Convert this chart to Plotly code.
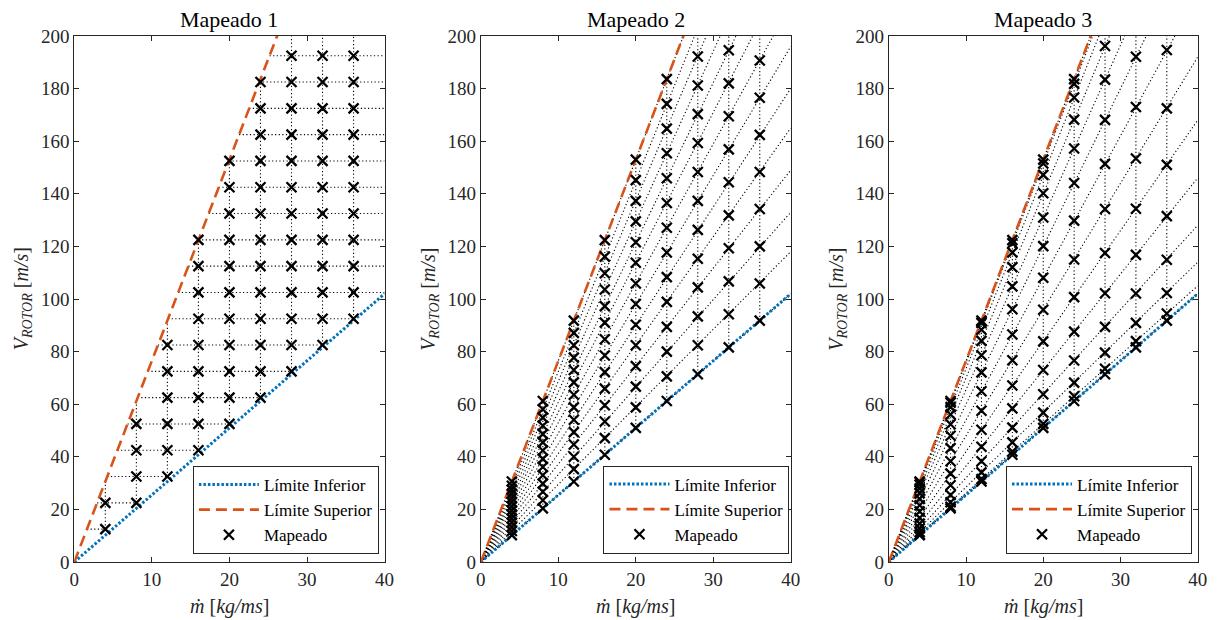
import numpy as np
import plotly.graph_objects as go

# ---------------- data ----------------
MDOT_COLUMNS = [4, 8, 12, 16, 20, 24, 28, 32, 36]
LIMIT_M = [0, 40]
LIMIT_INF_V = [0, 102.0]
LIMIT_SUP_V = [0, 306.0]
X_TICKS = [0, 10, 20, 30, 40]
Y_TICKS = [0, 20, 40, 60, 80, 100, 120, 140, 160, 180, 200]
TITLES = ["Mapeado 1", "Mapeado 2", "Mapeado 3"]
LEGEND_NAMES = ["Límite Inferior", "Límite Superior", "Mapeado"]

MAP1_V = [
    [12.5, 22.5],
    [22.5, 32.5, 42.5, 52.5],
    [32.5, 42.5, 52.5, 62.5, 72.5, 82.5],
    [42.5, 52.5, 62.5, 72.5, 82.5, 92.5, 102.5, 112.5, 122.5],
    [52.5, 62.5, 72.5, 82.5, 92.5, 102.5, 112.5, 122.5, 132.5, 142.5, 152.5],
    [62.5, 72.5, 82.5, 92.5, 102.5, 112.5, 122.5, 132.5, 142.5, 152.5, 162.5, 172.5, 182.5],
    [72.5, 82.5, 92.5, 102.5, 112.5, 122.5, 132.5, 142.5, 152.5, 162.5, 172.5, 182.5, 192.5],
    [82.5, 92.5, 102.5, 112.5, 122.5, 132.5, 142.5, 152.5, 162.5, 172.5, 182.5, 192.5],
    [92.5, 102.5, 112.5, 122.5, 132.5, 142.5, 152.5, 162.5, 172.5, 182.5, 192.5],
]

MAP2_V = [
    [10.2, 11.8, 13.3, 14.9, 16.5, 18.0, 19.6, 21.2, 22.8, 24.3, 25.9, 27.5, 29.0, 30.6],
    [20.4, 23.5, 26.7, 29.8, 33.0, 36.1, 39.2, 42.4, 45.5, 48.6, 51.8, 54.9, 58.1, 61.2],
    [30.6, 35.3, 40.0, 44.7, 49.4, 54.1, 58.8, 63.6, 68.3, 73.0, 77.7, 82.4, 87.1, 91.8],
    [40.8, 47.1, 53.4, 59.6, 65.9, 72.2, 78.5, 84.7, 91.0, 97.3, 103.6, 109.8, 116.1, 122.4],
    [51.0, 58.8, 66.7, 74.5, 82.4, 90.2, 98.1, 105.9, 113.8, 121.6, 129.5, 137.3, 145.2, 153.0],
    [61.2, 70.6, 80.0, 89.4, 98.9, 108.3, 117.7, 127.1, 136.5, 145.9, 155.4, 164.8, 174.2, 183.6],
    [71.4, 82.4, 93.4, 104.4, 115.3, 126.3, 137.3, 148.3, 159.3, 170.3, 181.2, 192.2],
    [81.6, 94.2, 106.7, 119.3, 131.8, 144.4, 156.9, 169.5, 182.0, 194.6],
    [91.8, 105.9, 120.0, 134.2, 148.3, 162.4, 176.5, 190.7],
]

MAP3_V = [
    [10.2, 10.5, 11.4, 12.8, 14.6, 16.8, 19.2, 21.6, 24.0, 26.2, 28.0, 29.4, 30.3, 30.6],
    [20.4, 21.0, 22.7, 25.5, 29.2, 33.6, 38.3, 43.3, 48.0, 52.4, 56.1, 58.9, 60.6, 61.2],
    [30.6, 31.5, 34.1, 38.3, 43.8, 50.3, 57.5, 64.9, 72.1, 78.6, 84.1, 88.3, 90.9, 91.8],
    [40.8, 42.0, 45.5, 51.1, 58.4, 67.1, 76.7, 86.5, 96.1, 104.8, 112.1, 117.7, 121.2, 122.4],
    [51.0, 52.5, 56.8, 63.8, 73.0, 83.9, 95.9, 108.1, 120.1, 131.0, 140.2, 147.2, 151.5, 153.0],
    [61.2, 63.0, 68.2, 76.6, 87.6, 100.7, 115.0, 129.8, 144.1, 157.2, 168.2, 176.6, 181.8, 183.6],
    [71.4, 73.5, 79.6, 89.4, 102.2, 117.5, 134.2, 151.4, 168.1, 183.4, 196.2],
    [81.6, 84.0, 90.9, 102.1, 116.8, 134.3, 153.4, 173.0, 192.1],
    [91.8, 94.5, 102.3, 114.9, 131.5, 151.0, 172.5, 194.7],
]

# ---------------- style / layout ----------------
BLUE = "#0072BD"
ORANGE = "#D95319"
AXIS_COLOR = "#262626"
FONT = "Liberation Serif"

W, H = 1220, 620
ML, MR, MT, MB = 74, 18, 36, 58
PW = W - ML - MR
PH = H - MT - MB
DOMAINS_PX = [(74.3, 385.7), (482.3, 793.3), (891.7, 1201.7)]
LEGEND_RB_PX = [(380, 554), (792, 553.5), (1196, 553.5)]


def px_to_paper_x(px):
    return (px - ML) / PW


def px_to_paper_y(py):
    return (H - MB - py) / PH


def upper_v(m):
    return float(np.interp(m, LIMIT_M, LIMIT_SUP_V))


def upper_m(v):
    return float(np.interp(v, LIMIT_SUP_V, LIMIT_M))


def vertical_segments(values):
    xs, ys = [], []
    for m, vs in zip(MDOT_COLUMNS, values):
        xs += [m, m, None]
        ys += [min(vs), upper_v(m), None]
    return xs, ys


def row_segments(values):
    xs, ys = [], []
    rows = sorted({v for vs in values for v in vs})
    for r in rows:
        last = max(m for m, vs in zip(MDOT_COLUMNS, values) if r in vs)
        end = LIMIT_M[-1] if r > LIMIT_INF_V[-1] else last
        xs += [upper_m(r), end, None]
        ys += [r, r, None]
    return xs, ys


def ray_segments(values):
    xs, ys = [], []
    m0 = MDOT_COLUMNS[0]
    for v in values[0]:
        s = v / m0
        xs += [0, LIMIT_M[-1], None]
        ys += [0, s * LIMIT_M[-1], None]
    return xs, ys


fig = go.Figure()
all_maps = [MAP1_V, MAP2_V, MAP3_V]
GRID_LINE = dict(color="black", width=1.1, dash="1.2px,2.4px")

for i, vals in enumerate(all_maps):
    xa = "x" if i == 0 else f"x{i+1}"
    ya = "y" if i == 0 else f"y{i+1}"
    lg = "legend" if i == 0 else f"legend{i+1}"

    vx, vy = vertical_segments(vals)
    if i == 0:
        hx, hy = row_segments(vals)
    else:
        hx, hy = ray_segments(vals)
    fig.add_trace(go.Scatter(x=vx + hx, y=vy + hy, mode="lines", line=GRID_LINE,
                             xaxis=xa, yaxis=ya, showlegend=False, hoverinfo="skip",
                             connectgaps=False))

    fig.add_trace(go.Scatter(x=LIMIT_M, y=LIMIT_INF_V, mode="lines", name=LEGEND_NAMES[0],
                             line=dict(color=BLUE, width=3, dash="2.5px,2px"),
                             xaxis=xa, yaxis=ya, legend=lg, legendrank=1))
    fig.add_trace(go.Scatter(x=LIMIT_M, y=LIMIT_SUP_V, mode="lines", name=LEGEND_NAMES[1],
                             line=dict(color=ORANGE, width=2.6, dash="11px,6px"),
                             xaxis=xa, yaxis=ya, legend=lg, legendrank=2))

    mx = [m for m, vs in zip(MDOT_COLUMNS, vals) for _ in vs]
    my = [v for vs in vals for v in vs]
    fig.add_trace(go.Scatter(x=mx, y=my, mode="markers", name=LEGEND_NAMES[2],
                             marker=dict(symbol="x-thin", size=10, color="black",
                                         line=dict(color="black", width=2.3)),
                             xaxis=xa, yaxis=ya, legend=lg, legendrank=3))

axis_common = dict(showline=True, mirror="ticks", linecolor=AXIS_COLOR, linewidth=1,
                   ticks="inside", ticklen=5, tickcolor=AXIS_COLOR, tickwidth=1,
                   showgrid=False, zeroline=False,
                   tickfont=dict(family=FONT, size=19, color="#262626"))

layout = dict(width=W, height=H, margin=dict(l=ML, r=MR, t=MT, b=MB),
              paper_bgcolor="white", plot_bgcolor="white",
              font=dict(family=FONT, color="#262626"))

annotations = []
for i in range(3):
    sfx = "" if i == 0 else str(i + 1)
    d0, d1 = DOMAINS_PX[i]
    layout["xaxis" + sfx] = dict(axis_common, domain=[px_to_paper_x(d0), px_to_paper_x(d1)],
                                 range=[X_TICKS[0], X_TICKS[-1]], tickvals=X_TICKS,
                                 anchor="y" + sfx)
    layout["yaxis" + sfx] = dict(axis_common, domain=[0, 1],
                                 range=[Y_TICKS[0], Y_TICKS[-1]], tickvals=Y_TICKS,
                                 anchor="x" + sfx)
    rx, by = LEGEND_RB_PX[i]
    layout["legend" + sfx] = dict(x=px_to_paper_x(rx), y=px_to_paper_y(by),
                                  xanchor="right", yanchor="bottom",
                                  bgcolor="white", bordercolor="#262626", borderwidth=1,
                                  font=dict(family=FONT, size=17, color="black"),
                                  itemwidth=60, tracegroupgap=0)
    cx = px_to_paper_x((d0 + d1) / 2)
    annotations.append(dict(text=TITLES[i], x=cx, y=1, xref="paper", yref="paper",
                            xanchor="center", yanchor="bottom", yshift=2, showarrow=False,
                            font=dict(family=FONT, size=22, color="black")))
    annotations.append(dict(text="<i>ṁ</i> [<i>kg/ms</i>]", x=cx, y=0, xref="paper",
                            yref="paper", xanchor="center", yanchor="middle", yshift=-44,
                            showarrow=False, font=dict(family=FONT, size=20, color="#262626")))
    annotations.append(dict(text="<i>V</i><sub><i>ROTOR</i></sub> [<i>m/s</i>]",
                            x=px_to_paper_x(d0), y=0.5, xref="paper", yref="paper",
                            xanchor="center", yanchor="middle", xshift=-52, textangle=-90,
                            showarrow=False, font=dict(family=FONT, size=20, color="#262626")))

layout["annotations"] = annotations
fig.update_layout(**layout)
fig.write_html("out.html", config={"displayModeBar": False},
               post_script="document.body.style.margin='0';document.body.style.overflow='hidden';")
